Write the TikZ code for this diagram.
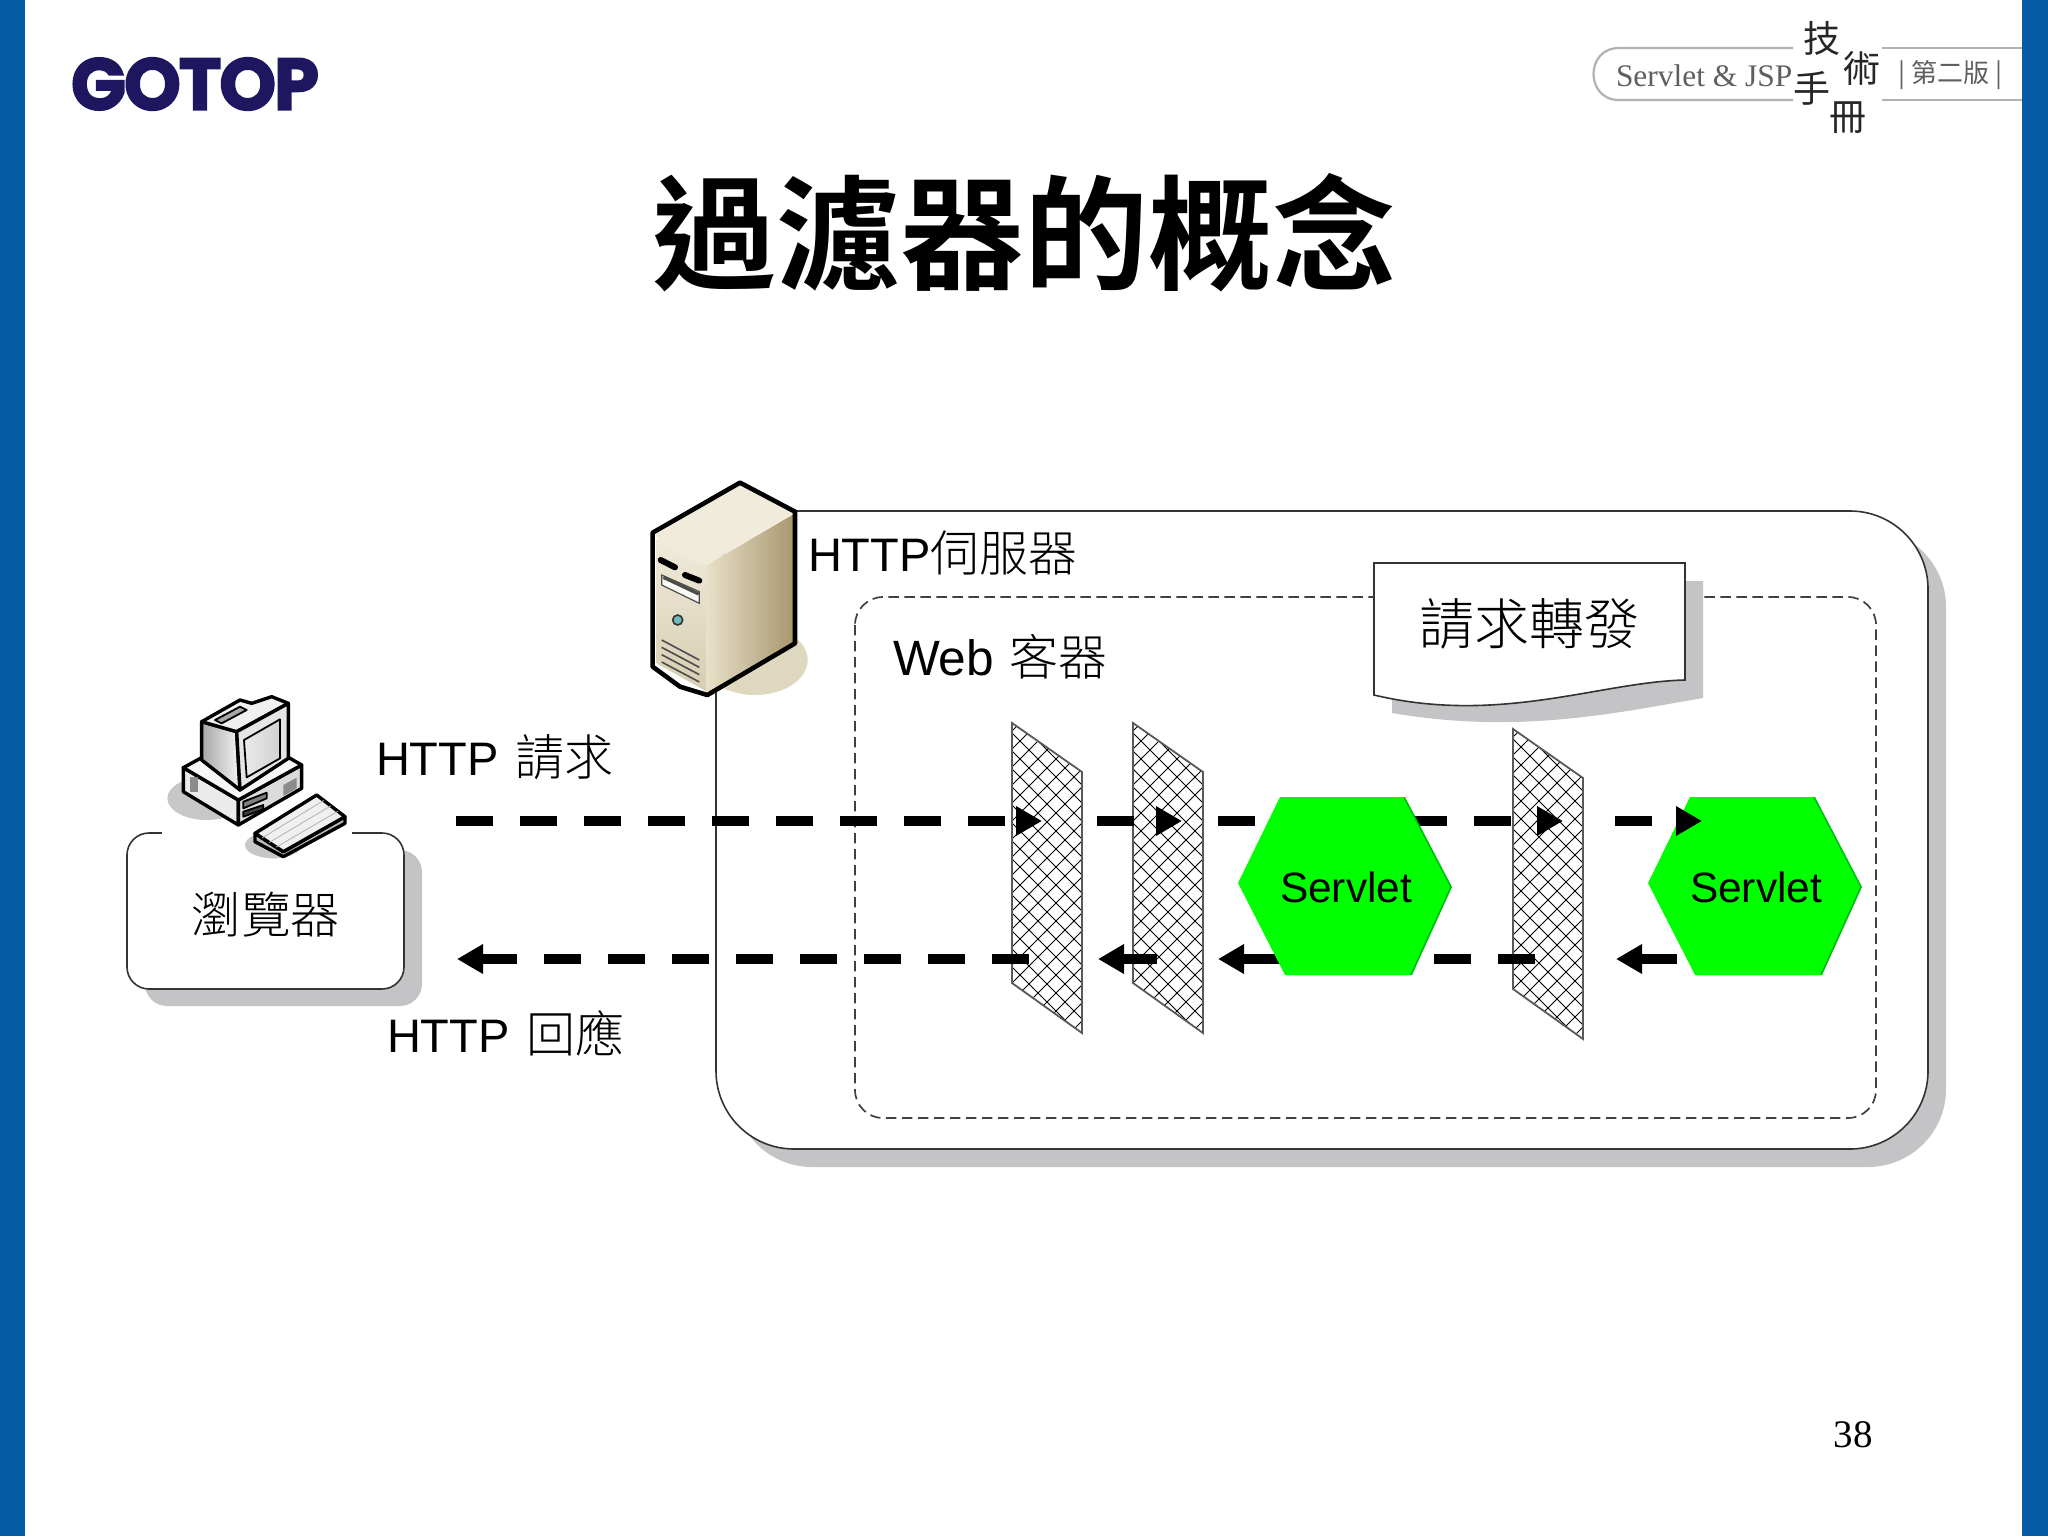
\documentclass[tikz,border=0pt]{standalone}
\usepackage{fontspec}
\setmainfont{Liberation Sans}
\newfontfamily\cjk{Noto Sans CJK TC Light}
\newfontfamily\cjkreg{Noto Sans CJK TC}
\newfontfamily\titlefont{Noto Sans CJK TC Bold}
\newfontfamily\serifrm{Liberation Serif}
\newfontfamily\logofont[BoldFeatures={FakeBold=2.5},LetterSpace=-3]{Poppins}
\usetikzlibrary{arrows.meta}
\definecolor{barblue}{RGB}{5,92,165}
\definecolor{logonavy}{RGB}{30,22,95}
\definecolor{shadowgray}{RGB}{196,196,198}
\definecolor{hexgreen}{RGB}{0,255,0}
\definecolor{hexdark}{RGB}{0,190,20}
\definecolor{tan1}{RGB}{222,216,190}
\definecolor{tan2}{RGB}{240,235,218}
\definecolor{tan3}{RGB}{168,150,110}
\definecolor{tan4}{RGB}{232,224,200}
\definecolor{headgray}{RGB}{95,95,95}
\tikzset{
  every node/.style={inner sep=0pt,outer sep=0pt},
  boxline/.style={draw=black!80,line width=0.8pt},
  dashbox/.style={draw=black!75,line width=0.85pt,dash pattern=on 5.2pt off 2.8pt},
  flow/.style={line width=5pt,dash pattern=on 18.5pt off 13.5pt,
     -{Triangle[length=13pt,width=14pt]}},
  panel/.style={fill=white},
  paneledge/.style={draw=black!65,line width=0.9pt},
  label/.style={font=\fontsize{23.5}{26}\selectfont,anchor=west},
  hexbase/.style={fill=hexgreen},
  hexshade/.style={fill=hexdark},
  ico/.style={draw=black,line width=0.9pt,line join=round},
  icothick/.style={draw=black,line width=1.7pt,line join=round},
  brush/.style={font=\cjkreg\fontsize{18.5}{20}\selectfont,text=black!85}
}
\newcommand{\cjklabel}[1]{{\cjk\fontsize{24.5}{26}\selectfont #1}}
\newcommand{\meshpanel}[3]{% x, ytop offset, name
  \begin{scope}
    \path[panel] (#1,#2) -- (#1+70,#2+49) -- (#1+70,#2+310) -- (#1,#2+260) -- cycle;
    \clip (#1,#2) -- (#1+70,#2+49) -- (#1+70,#2+310) -- (#1,#2+260) -- cycle;
    \foreach \k in {-20,...,24}{
      \draw[black,line width=0.45pt] (#1-10,#2+\k*18) -- ++(100,100);
      \draw[black,line width=0.45pt] (#1-10,#2+\k*18) -- ++(100,-100);
    }
  \end{scope}
  \draw[paneledge] (#1,#2) -- (#1+70,#2+49) -- (#1+70,#2+310) -- (#1,#2+260) -- cycle;
}
\newcommand{\hexshape}[2]{% style, xshift
  \path[#1] (1280+#2,797) -- (1403+#2,797) -- (1450+#2,887) -- (1410+#2,975) -- (1285+#2,975) -- (1238+#2,883) -- cycle;
}
\begin{document}
\begin{tikzpicture}[x=0.5pt,y=-0.5pt]
\useasboundingbox (0,0) rectangle (2048,1536);
\fill[white] (0,0) rectangle (2048,1536);
\fill[barblue] (0,0) rectangle (25,1536);
\fill[barblue] (2022,0) rectangle (2048,1536);

% header
\node[anchor=center] (logo) at (195,84) {\resizebox{124pt}{26pt}{\logofont\bfseries\color{logonavy}GOTOP}};
\draw[black!30,line width=1.1pt] (1793,48) -- (1619,48) .. controls (1585,48) and (1585,100) .. (1619,100) -- (1793,100);
\draw[black!30,line width=1.1pt] (1882,48) -- (2022,48) (1882,100) -- (2022,100);
\node[anchor=west,text=headgray,font=\serifrm\fontsize{15.7}{17}\selectfont] (book) at (1616,76) {Servlet \& JSP};
\node[brush] (ch1) at (1822,38) {技};
\node[brush] (ch2) at (1862,68) {術};
\node[brush] (ch3) at (1812,88) {手};
\node[brush] (ch4) at (1848,118) {冊};
\node[font=\cjkreg\fontsize{13}{15}\selectfont,text=headgray] (ed) at (1950,75) {|\hspace{3pt}第二版\hspace{3pt}|};

% title
\node[font=\titlefont\fontsize{62}{66}\selectfont] (title) at (1024,233) {過濾器的概念};

% browser box
\fill[shadowgray,rounded corners=11pt] (145,850) rectangle (422,1006);
\path[boxline,fill=white,rounded corners=11pt] (127,833) rectangle (404,989);
\fill[white] (162,826) rectangle (352,842);
\node[font=\cjk\fontsize{24.8}{27}\selectfont] (browser) at (266,915) {瀏覽器};

% computer icon
\begin{scope}[shift={(100,670)},x=0.16667pt,y=-0.16667pt]
  \fill[black!22] (320,385) ellipse[x radius=118,y radius=65];
  \fill[black!22] (520,525) ellipse[x radius=85,y radius=40];
  % base
  \path[icothick,fill=black!8] (250,293) -- (415,390) -- (415,465) -- (250,365) -- cycle;
  \path[icothick,fill=black!14] (415,390) -- (605,285) -- (605,355) -- (415,465) -- cycle;
  \path[icothick,fill=black!3] (250,293) -- (310,260) -- (565,262) -- (605,285) -- (415,390) -- cycle;
  \fill[black!45] (270,320) rectangle (295,365);
  \fill[black!45] (550,345) -- (590,323) -- (590,355) -- (550,378) -- cycle;
  \path[ico,fill=black!50] (430,395) -- (500,368) -- (500,385) -- (430,415) -- cycle;
  \path[ico,fill=black!75] (430,425) -- (490,405) -- (490,418) -- (430,440) -- cycle;
  % monitor
  \path[icothick,left color=black!35,right color=black!4] (305,155) -- (410,185) -- (420,360) -- (305,270) -- cycle;
  \path[icothick,fill=black!6] (305,155) -- (420,90) -- (455,100) -- (515,80) -- (565,100) -- (410,185) -- cycle;
  \path[icothick,fill=black!10] (410,185) -- (565,100) -- (565,265) -- (420,360) -- cycle;
  \path[ico,fill=black!35] (345,150) -- (420,110) -- (440,120) -- (365,160) -- cycle;
  \path[ico,left color=black!8,right color=blue!8!black!18] (432,210) -- (540,148) -- (540,265) -- (440,322) -- cycle;
  % keyboard
  \path[icothick,fill=black!28] (465,490) -- (550,545) -- (735,440) -- (735,460) -- (550,560) -- (465,515) -- cycle;
  \path[icothick,fill=black!6] (465,490) -- (650,375) -- (735,440) -- (550,545) -- cycle;
  \foreach \t in {0.25,0.5,0.75}{
    \draw[black!30,line width=0.4pt] (465+\t*85,490+\t*55) -- (650+\t*85,375+\t*65);
  }
\end{scope}

% server box
\fill[shadowgray,rounded corners=39pt] (734,529) rectangle (1946,1167);
\path[boxline,fill=white,rounded corners=39pt] (716,511) rectangle (1928,1149);
\node[label] (serverlbl) at (808,553) {HTTP\cjklabel{伺服器}};

% container
\path[dashbox,rounded corners=14pt] (855,597) rectangle (1876,1118);
\node[label,font=\fontsize{24.8}{26}\selectfont] (weblbl) at (893,657) {Web \hspace{1pt}\cjklabel{客器}};

% note
\fill[shadowgray] (1392,581) -- (1703,581) -- (1703,698) .. controls (1620,712) and (1520,735) .. (1392,713) -- cycle;
\path[boxline,fill=white] (1374,563) -- (1685,563) -- (1685,680) .. controls (1600,682) and (1500,725) .. (1374,695) -- cycle;
\node[font=\cjk\fontsize{27.5}{29}\selectfont] (notelbl) at (1529,624) {請求轉發};

% browser-side labels
\node[label] (reqlbl) at (376,757) {HTTP \hspace{2pt}\cjklabel{請求}};
\node[label] (reslbl) at (387,1033) {HTTP \hspace{2pt}\cjklabel{回應}};

% filters
\meshpanel{1012}{723}{f1}
\meshpanel{1133}{723}{f2}
\meshpanel{1513}{729}{f3}

% named end points
\coordinate (reqstart) at (456,821);
\coordinate (f1in) at (1042,821);
\coordinate (f1out) at (1097,821);
\coordinate (f2in) at (1182,821);
\coordinate (f2out) at (1218,821);
\coordinate (f3in) at (1563,821);
\coordinate (f3out) at (1615,821);
\coordinate (s2in) at (1702,821);
\coordinate (s2back) at (1677,959);
\coordinate (f3back) at (1616,959);
\coordinate (f3left) at (1535,959);
\coordinate (f2back) at (1218,959);
\coordinate (f2left) at (1157,959);
\coordinate (f1back) at (1098,959);
\coordinate (f1left) at (1029,959);
\coordinate (resend) at (457,959);

% connectors behind the servlets
\draw[flow] (reqstart) -- (f1in);
\draw[flow] (f1out) -- (f2in);
\draw[flow] (f2out) -- (f3in);
\draw[flow] (f3left) -- (f2back);
\draw[flow] (f2left) -- (f1back);
\draw[flow] (f1left) -- (resend);
\draw[flow] (s2back) -- (f3back);

% servlets
\hexshape{hexshade}{2}
\hexshape{hexbase}{0}
\node[font=\fontsize{21.2}{24}\selectfont] (servletA) at (1346,887) {Servlet};
\hexshape{hexshade}{412}
\hexshape{hexbase}{410}
\node[font=\fontsize{21.2}{24}\selectfont] (servletB) at (1756,887) {Servlet};

\draw[flow] (f3out) -- (s2in);

% server icon
\begin{scope}[shift={(620,460)},x=0.16667pt,y=-0.16667pt]
  \fill[tan1] (405,600) ellipse[x radius=158,y radius=105];
  \path[top color=tan2,bottom color=tan1!85!tan3] (110,235) -- (260,315) -- (260,695) -- (110,610) -- cycle;
  \path[left color=tan4,right color=tan3] (260,315) -- (525,160) -- (525,550) -- (260,700) -- cycle;
  \fill[tan2] (360,75) -- (520,160) -- (260,315) .. controls (200,300) and (150,270) .. (105,225) -- cycle;
  \draw[black,line width=2.3pt,line join=round] (360,68) -- (525,155) -- (525,550) -- (262,705) -- (180,680) -- (98,620) -- (98,218) -- cycle;
  \draw[black,line width=3pt,line cap=round] (122,300) -- (165,322);
  \draw[black,line width=3pt,line cap=round] (195,345) -- (238,362);
  \path[fill=white!85!tan1,draw=black!70,line width=0.6pt] (125,345) -- (238,395) -- (238,430) -- (125,375) -- cycle;
  \draw[black!70,line width=1.6pt] (130,352) -- (236,402);
  \path[fill=teal!55!white,draw=black!80,line width=0.8pt] (173,480) circle[radius=15];
  \foreach \d in {0,22,44,66}{
    \draw[black!70,line width=0.8pt] (125,540+\d) -- (238,600+\d);
  }
\end{scope}

\node[font=\serifrm\fontsize{19.5}{22}\selectfont] (pageno) at (1853,1435) {38};
\end{tikzpicture}
\end{document}
